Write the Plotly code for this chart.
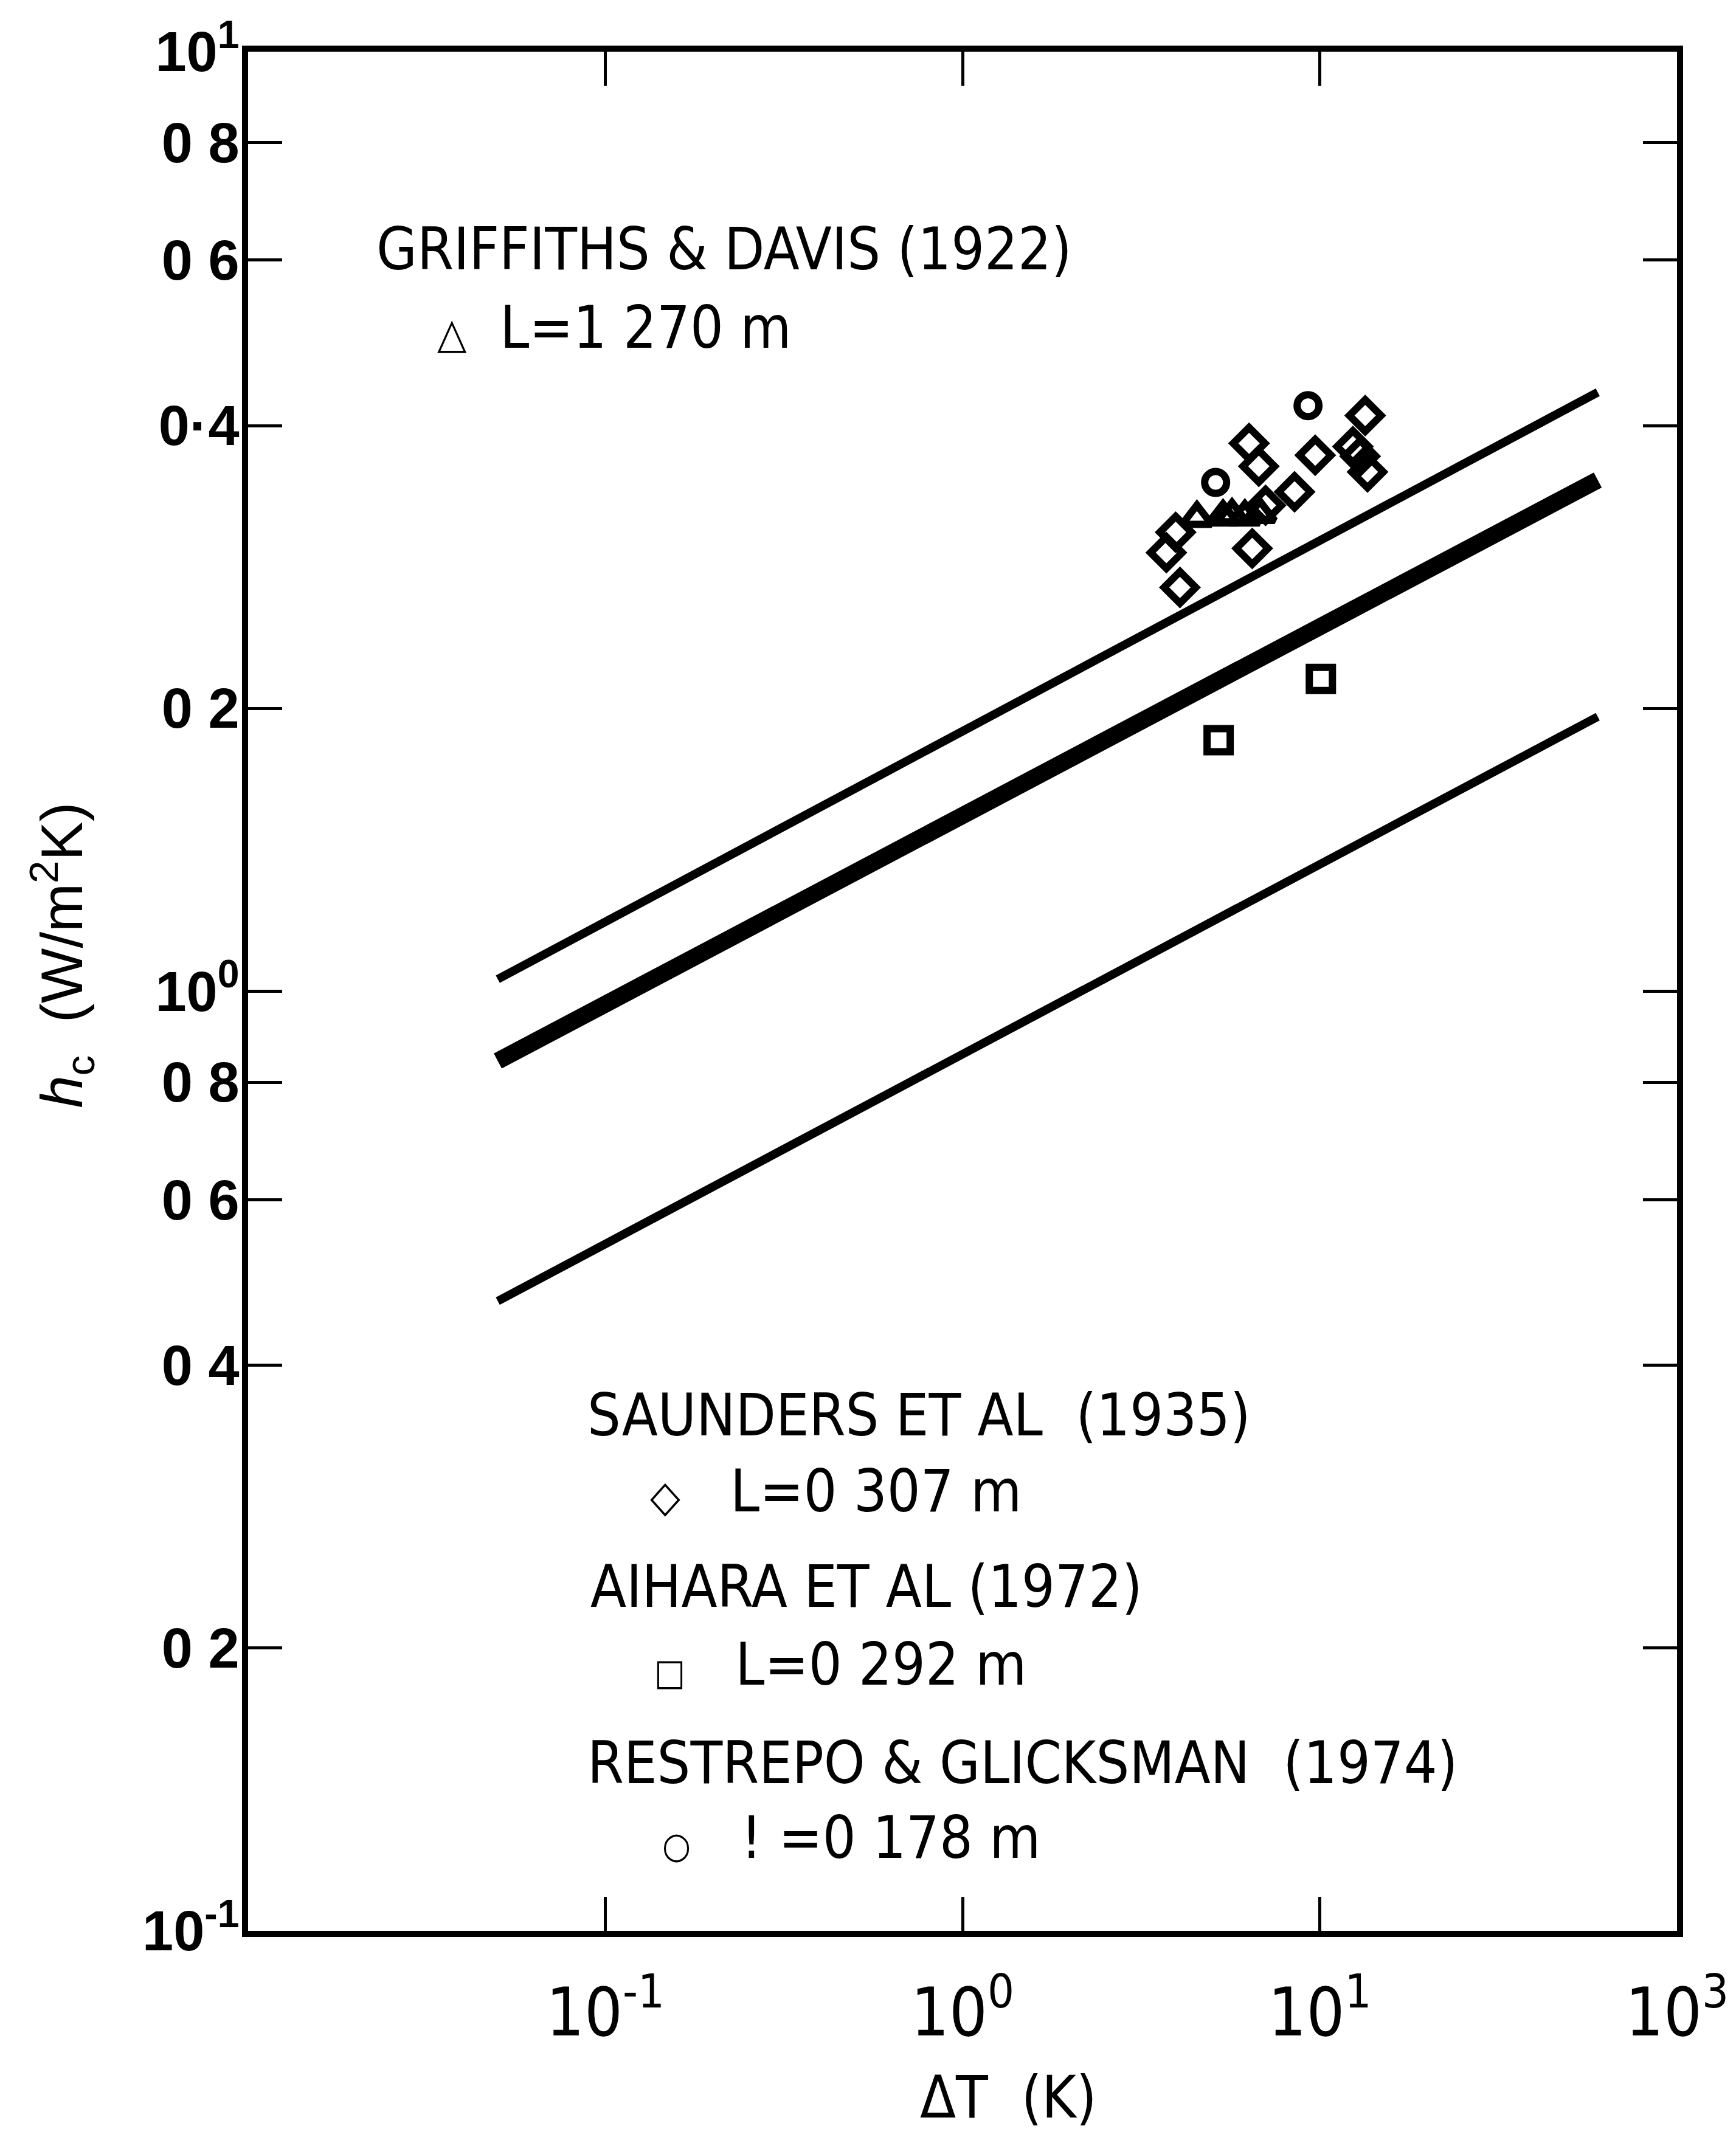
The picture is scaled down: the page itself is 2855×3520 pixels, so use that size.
import plotly.graph_objects as go

# ---- data ----
line_x = [0.05, 60]
upper_line_y = [1.03, 4.34]
middle_line_y = [0.843, 3.50]
lower_line_y = [0.468, 1.96]

saunders_x = [13.4, 6.34, 6.75, 9.71, 12.38, 12.97, 13.6, 8.50, 7.05, 3.95, 3.72, 6.47, 4.06]
saunders_y = [4.10, 3.83, 3.62, 3.72, 3.80, 3.71, 3.57, 3.40, 3.29, 3.08, 2.93, 2.96, 2.69]

restrepo_x = [9.27, 5.11]
restrepo_y = [4.20, 3.48]

griffiths_x = [4.53, 5.36, 5.68, 6.17, 6.80]
griffiths_y = [3.19, 3.20, 3.21, 3.20, 3.22]

aihara_x = [10.07, 5.21]
aihara_y = [2.15, 1.85]

x_tickvals = [0.1, 1, 10, 100]
x_ticktext = ["10<sup>-1</sup>", "10<sup>0</sup>", "10<sup>1</sup>", "10<sup>3</sup>"]
y_tickvals = [0.1, 0.2, 0.4, 0.6, 0.8, 1, 2, 4, 6, 8, 10]
y_ticktext = ["10<sup>-1</sup>", "0 2", "0 4", "0 6", "0 8", "10<sup>0</sup>",
              "0 2", "0·4", "0 6", "0 8", "10<sup>1</sup>"]

NARROW = "Liberation Sans Narrow, DejaVu Sans Condensed, Arial Narrow, sans-serif"
SANS = "Liberation Sans, Arial, DejaVu Sans, sans-serif"

fig = go.Figure()

for ys, w in [(upper_line_y, 14), (middle_line_y, 28), (lower_line_y, 14)]:
    fig.add_trace(go.Scatter(x=line_x, y=ys, mode="lines",
                             line=dict(color="black", width=w), showlegend=False))

fig.add_trace(go.Scatter(x=saunders_x, y=saunders_y, mode="markers", showlegend=False,
                         marker=dict(symbol="diamond-open", size=40, color="black",
                                     line=dict(width=12, color="black"))))
fig.add_trace(go.Scatter(x=restrepo_x, y=restrepo_y, mode="markers", showlegend=False,
                         marker=dict(symbol="circle-open", size=36, color="black",
                                     line=dict(width=12, color="black"))))
fig.add_trace(go.Scatter(x=griffiths_x, y=griffiths_y, mode="markers", showlegend=False,
                         marker=dict(symbol="triangle-up-open", size=42, color="black",
                                     line=dict(width=12, color="black"))))
fig.add_trace(go.Scatter(x=aihara_x, y=aihara_y, mode="markers", showlegend=False,
                         marker=dict(symbol="square-open", size=38, color="black",
                                     line=dict(width=12, color="black"))))

L, R, T, B = 408, 2762, 85, 3176
W, H = 2855, 3520

def px(x):
    return (x - L) / (R - L)

def py(y):
    return (B - y) / (B - T)

def sym(s, size):
    return "<span style='font-size:%dpx;font-weight:bold'>%s</span>" % (size, s)

texts = [
    ("GRIFFITHS & DAVIS (1922)", 617, 410),
    (sym("△", 70) + "  L=1 270 m", 718, 539),
    ("SAUNDERS ET AL  (1935)", 965, 2328),
    (sym("◇", 72) + "   L=0 307 m", 1068, 2453),
    ("AIHARA ET AL (1972)", 970, 2610),
    (sym("□", 60) + "   L=0 292 m", 1075, 2738),
    ("RESTREPO & GLICKSMAN  (1974)", 965, 2900),
    (sym("○", 60) + "   ! =0 178 m", 1088, 3023),
]
for t, x, y in texts:
    fig.add_annotation(text=t, x=px(x), y=py(y), xref="paper", yref="paper",
                       xanchor="left", yanchor="middle", showarrow=False,
                       font=dict(family=NARROW, size=96, color="black"))

fig.add_annotation(text="ΔT  (K)", x=px(1661), y=py(3450), xref="paper", yref="paper",
                   xanchor="center", yanchor="middle", showarrow=False, borderpad=0,
                   font=dict(family=NARROW, size=96, color="black"))
fig.add_annotation(text="<i>h</i><sub>c</sub>  (W/m<sup>2</sup>K)", x=px(100), y=py(1571),
                   xref="paper", yref="paper", xanchor="center", yanchor="middle",
                   showarrow=False, textangle=-90,
                   font=dict(family=SANS, size=96, color="black"))

axis_common = dict(showgrid=False, zeroline=False, showline=True, linecolor="black",
                   linewidth=10, mirror="ticks", ticks="inside", ticklen=56,
                   tickwidth=5, tickcolor="black")

fig.update_xaxes(type="log", range=[-2, 2], tickmode="array", tickvals=x_tickvals,
                 ticktext=x_ticktext, ticklabelstandoff=30,
                 tickfont=dict(family=NARROW, size=110, color="black"), **axis_common)
fig.update_yaxes(type="log", range=[-1, 1], tickmode="array", tickvals=y_tickvals,
                 ticktext=y_ticktext, ticklabelstandoff=-14,
                 tickfont=dict(family=SANS, size=92, color="black", weight="bold"), **axis_common)

fig.update_layout(width=W, height=H, margin=dict(l=L, r=W - R, t=T, b=H - B),
                  paper_bgcolor="white", plot_bgcolor="white", showlegend=False)

fig.write_html("out.html")
